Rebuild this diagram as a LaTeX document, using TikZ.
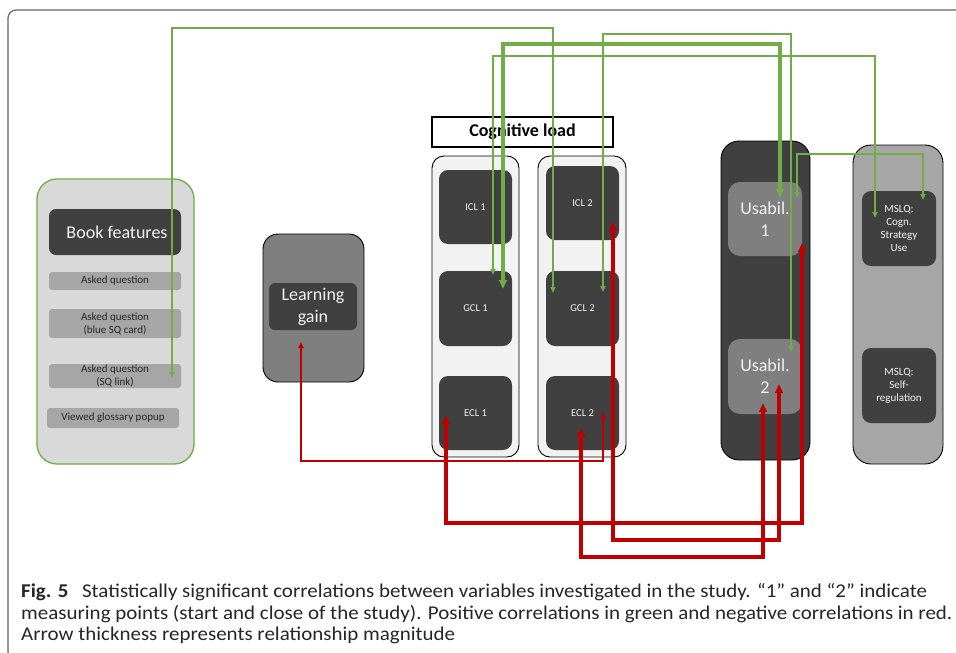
\documentclass[tikz,border=0pt]{standalone}
\usepackage{fontspec}
\setmainfont{Carlito}
\newfontfamily\capfont[FakeStretch=1.075]{Carlito}
\usetikzlibrary{arrows.meta,calc}
\definecolor{dk}{HTML}{404040}
\definecolor{md}{HTML}{7F7F7F}
\definecolor{lt}{HTML}{A6A6A6}
\definecolor{pan}{HTML}{D9D9D9}
\definecolor{colf}{HTML}{F2F2F2}
\definecolor{gr}{HTML}{70AD47}
\definecolor{rd}{HTML}{C00000}
\definecolor{txt}{HTML}{262626}
\definecolor{wt}{HTML}{F2F2F2}
\definecolor{frm}{HTML}{666666}
\begin{document}
\begin{tikzpicture}[x=1pt,y=-1pt,
  box/.style={rectangle, inner sep=0pt, outer sep=0pt, align=center},
  sz/.style 2 args={minimum width=#1pt, minimum height=#2pt},
  outerpanel/.style={box, draw=black, line width=0.9pt, rounded corners=18pt},
  darkbox/.style={box, fill=dk, text=wt, rounded corners=9pt},
  itembox/.style={box, fill=lt, text=txt, rounded corners=3pt, font=\fontsize{11}{13}\selectfont},
  big/.style={font=\fontsize{18}{22}\selectfont},
  small/.style={font=\fontsize{10.5}{13}\selectfont},
  tipthin/.tip={Triangle[length=6pt,width=5pt]},
  tipthick/.tip={Triangle[length=9pt,width=7.5pt]},
  gthin/.style={draw=gr, line width=1.8pt, tipthin-tipthin},
  gthick/.style={draw=gr, line width=3.4pt, tipthick-tipthick},
  rthin/.style={draw=rd, line width=1.8pt, tipthin-tipthin},
  rthick/.style={draw=rd, line width=3.4pt, tipthick-tipthick},
  captext/.style={anchor=base west, inner sep=0pt, text=txt, font=\capfont\fontsize{19.5}{22}\selectfont}
]
\useasboundingbox (0,0) rectangle (956,653);
\fill[white] (0,0) rectangle (956,653);
% frame
\draw[frm, line width=1.2pt, rounded corners=8pt] (956,10) -- (8,10) -- (8,660) -- (30,660);

% Book features panel
\node[box, sz={157}{285}, fill=pan, draw=gr, line width=1.3pt, rounded corners=20pt] (book) at (115.5,321.5) {};
\node[darkbox, sz={132}{46}, big, rounded corners=7pt] (bf) at (115,232) {\hspace*{4pt}Book features};
\node[itembox, sz={132}{18}] (aq1) at (115,281) {Asked question};
\node[itembox, sz={132}{29}] (aq2) at (115,323.5) {Asked question\\(blue SQ card)};
\node[itembox, sz={132}{24}] (aq3) at (115,376) {Asked question\\(SQ link)};
\node[itembox, sz={132}{20}] (vg) at (113,418) {Viewed glossary popup};

% Learning gain
\node[outerpanel, sz={101}{148}, fill=md, rounded corners=15pt] (lgout) at (313.5,308) {};
\node[darkbox, sz={88}{47}, big, rounded corners=6pt] (lg) at (313,306.5) {Learning\\gain};

% Cognitive load
\node[box, sz={181}{30}, draw=black, line width=1.3pt, fill=white, font=\bfseries\fontsize{18}{22}\selectfont] (cltitle) at (522.5,132) {Cognitive load};
\node[outerpanel, sz={87}{301}, fill=colf, rounded corners=12pt] (col1) at (475.5,306.5) {};
\node[outerpanel, sz={88}{301}, fill=colf, rounded corners=12pt] (col2) at (582,306.5) {};
\node[darkbox, sz={73}{74}, small] (icl1) at (475.5,207) {ICL 1};
\node[darkbox, sz={73}{75}, small] (gcl1) at (475.5,308.5) {GCL 1};
\node[darkbox, sz={73}{74}, small] (ecl1) at (475.5,413) {ECL 1};
\node[darkbox, sz={73}{74}, small] (icl2) at (582.5,203) {ICL 2};
\node[darkbox, sz={73}{75}, small] (gcl2) at (582.5,308.5) {GCL 2};
\node[darkbox, sz={73}{74}, small] (ecl2) at (582.5,413) {ECL 2};

% Usability
\node[outerpanel, sz={89}{319}, fill=dk, rounded corners=18pt] (usout) at (765.5,300.5) {};
\node[box, sz={74}{74}, fill=md, text=wt, rounded corners=12pt, big] (us1) at (765,219) {Usabil.\\1};
\node[box, sz={74}{75}, fill=md, text=wt, rounded corners=12pt, big] (us2) at (765,376.5) {Usabil.\\2};

% MSLQ
\node[outerpanel, sz={90}{319}, fill=lt, rounded corners=18pt] (msout) at (898,304.5) {};
\node[darkbox, sz={74}{75}, font=\fontsize{11}{13}\selectfont] (ms1) at (899,228.5) {MSLQ:\\Cogn.\\Strategy\\Use};
\node[darkbox, sz={74}{75}, font=\fontsize{11}{13}\selectfont] (ms2) at (899,385.5) {MSLQ:\\Self-\\regulation};

% connector end points
\coordinate (g1a) at ($(aq3.center)+(57,2)$);
\coordinate (g1b) at ($(gcl2.center)+(-29.5,-15.5)$);
\coordinate (g2a) at ($(gcl2.center)+(20.5,-16.5)$);
\coordinate (g2b) at ($(us2.center)+(26,-24.5)$);
\coordinate (g3a) at ($(gcl1.center)+(27.5,-19.5)$);
\coordinate (g3b) at ($(us1.center)+(15,-21)$);
\coordinate (g4a) at ($(gcl1.center)+(17.5,-33.5)$);
\coordinate (g4b) at ($(ms1.center)+(-24,-10.5)$);
\coordinate (g5a) at ($(us1.center)+(32,-21)$);
\coordinate (g5b) at ($(ms1.center)+(24,-28.5)$);
\coordinate (r1a) at ($(lg.center)+(-12,35.5)$);
\coordinate (r1b) at ($(ecl2.center)+(20.5,-1)$);
\coordinate (r2a) at ($(ecl1.center)+(-29.5,2)$);
\coordinate (r2b) at ($(us1.center)+(37,24)$);
\coordinate (r3a) at ($(icl2.center)+(30.5,19)$);
\coordinate (r3b) at ($(us2.center)+(14,7.5)$);
\coordinate (r4a) at ($(ecl2.center)+(-1.5,15)$);
\coordinate (r4b) at ($(us2.center)+(-2,26.5)$);

% positive correlations (green)
\draw[gthin] (g1a) -- (g1a |- 0,28) -| (g1b);
\draw[gthin] (g2a) -- (g2a |- 0,34) -| (g2b);
\draw[gthin] (g4a) -- (g4a |- 0,56) -| (g4b);
\draw[gthick] (g3a) -- (g3a |- 0,44) -| (g3b);
\draw[gthin] (g5a) -- (g5a |- 0,154) -| (g5b);

% negative correlations (red)
\draw[rthin] (r1a) -- (r1a |- 0,461) -| (r1b);
\draw[rthick] (r2a) -- (r2a |- 0,523) -| (r2b);
\draw[rthick] (r3a) -- (r3a |- 0,540) -| (r3b);
\draw[rthick] (r4a) -- (r4a |- 0,557) -| (r4b);

% caption
\node[captext] (cap1) at (21,597) {\textbf{Fig. 5}\hspace{0.7em}Statistically significant correlations between variables investigated in the study. “1” and “2” indicate};
\node[captext] (cap2) at (21,619) {measuring points (start and close of the study). Positive correlations in green and negative correlations in red.};
\node[captext] (cap3) at (21,640) {Arrow thickness represents relationship magnitude};
\end{tikzpicture}
\end{document}
